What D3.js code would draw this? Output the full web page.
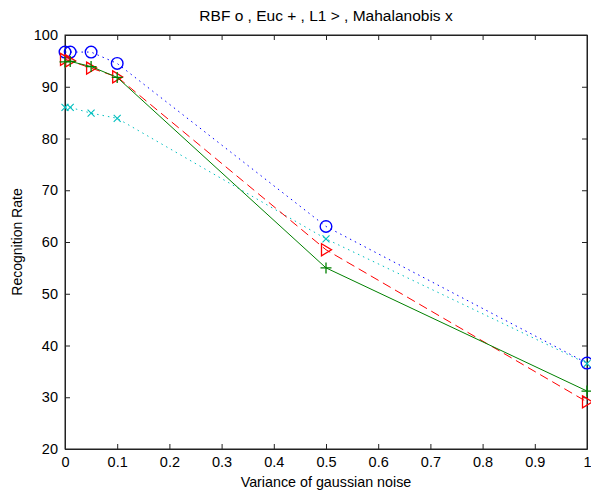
<!DOCTYPE html>
<html><head><meta charset="utf-8">
<script src="https://cdn.jsdelivr.net/npm/d3@7"></script>
<style>body{margin:0;background:#fff}svg{display:block}text{font-family:"Liberation Sans",Arial,sans-serif;fill:#000}</style>
</head><body>
<svg id="c" width="591" height="493"></svg>
<script>
const noise = [0, 0.01, 0.05, 0.1, 0.5, 1];
const rbf = [96.7, 96.7, 96.7, 94.5, 63.0, 36.6];
const euc = [94.8, 94.9, 93.9, 91.8, 55.0, 31.2];
const l1 = [95.3, 95.0, 93.6, 91.9, 58.5, 29.1];
const mahal = [86.0, 86.0, 84.9, 83.9, 60.6, 36.5];
const xTicks = [0,0.1,0.2,0.3,0.4,0.5,0.6,0.7,0.8,0.9,1];
const yTicks = [20,30,40,50,60,70,80,90,100];
const titleText = "RBF o , Euc + , L1 > , Mahalanobis x";
const xLabel = "Variance of gaussian noise";
const yLabel = "Recognition Rate";

const L=65,R=587,T=35,B=449;
const svg=d3.select("#c");
const x=d3.scaleLinear().domain([0,1]).range([L,R]);
const y=d3.scaleLinear().domain([20,100]).range([B,T]);
const axCol="#222";
svg.append("rect").attr("x",L).attr("y",T).attr("width",R-L).attr("height",B-T).attr("fill","#fff").attr("stroke",axCol).attr("stroke-width",1);

const fmt=d=>String(d);
const tl=5;
const gx=svg.append("g").attr("transform",`translate(0,${B})`).call(d3.axisBottom(x).tickValues(xTicks).tickFormat(fmt).tickSizeInner(-tl).tickSizeOuter(0).tickPadding(8));
const gxt=svg.append("g").attr("transform",`translate(0,${T})`).call(d3.axisTop(x).tickValues(xTicks).tickFormat("").tickSizeInner(-tl).tickSizeOuter(0));
const gy=svg.append("g").attr("transform",`translate(${L},0)`).call(d3.axisLeft(y).tickValues(yTicks).tickFormat(fmt).tickSizeInner(-tl).tickSizeOuter(0).tickPadding(7));
const gyr=svg.append("g").attr("transform",`translate(${R},0)`).call(d3.axisRight(y).tickValues(yTicks).tickFormat("").tickSizeInner(-tl).tickSizeOuter(0));
[gx,gxt,gy,gyr].forEach(g=>{g.select(".domain").attr("stroke",axCol);g.selectAll(".tick line").attr("stroke",axCol);g.selectAll("text").attr("font-size",14.5).attr("fill","#111").attr("font-family","Liberation Sans, Arial, sans-serif");});

const series=[
 {v:rbf,c:"#0000ff",dash:"1.5,4",m:"o"},
 {v:mahal,c:"#00bfbf",dash:"1.5,4",m:"x"},
 {v:l1,c:"#ff0000",dash:"9,5",m:">"},
 {v:euc,c:"#008000",dash:null,m:"+"}
];
const line=d3.line().x((d,i)=>x(noise[i])).y(d=>y(d));
series.forEach(s=>{
  const p=svg.append("path").datum(s.v).attr("d",line).attr("fill","none").attr("stroke",s.c).attr("stroke-width",1);
  if(s.dash) p.attr("stroke-dasharray",s.dash);
  const g=svg.append("g");
  s.v.forEach((d,i)=>{
    const cx=x(noise[i]),cy=y(d);
    if(s.m==="o") g.append("circle").attr("cx",cx).attr("cy",cy).attr("r",5.8).attr("fill","none").attr("stroke",s.c).attr("stroke-width",1.4);
    else if(s.m==="+") g.append("path").attr("d",`M${cx-5.5},${cy}H${cx+5.5}M${cx},${cy-5.5}V${cy+5.5}`).attr("stroke",s.c).attr("stroke-width",1.3);
    else if(s.m==="x") g.append("path").attr("d",`M${cx-3.5},${cy-3.5}L${cx+3.5},${cy+3.5}M${cx-3.5},${cy+3.5}L${cx+3.5},${cy-3.5}`).attr("stroke",s.c).attr("stroke-width",1.1);
    else g.append("path").attr("d",`M${cx-4.5},${cy-6}L${cx+5.5},${cy}L${cx-4.5},${cy+6}Z`).attr("fill","none").attr("stroke",s.c).attr("stroke-width",1.3);
  });
});

svg.append("text").attr("x",(L+R)/2).attr("y",21).attr("text-anchor","middle").attr("font-size",15.5).text(titleText);
svg.append("text").attr("x",(L+R)/2).attr("y",487).attr("text-anchor","middle").attr("font-size",14.3).text(xLabel);
svg.append("text").attr("transform",`translate(22,${(T+B)/2}) rotate(-90)`).attr("text-anchor","middle").attr("font-size",14).text(yLabel);
</script>
</body></html>
